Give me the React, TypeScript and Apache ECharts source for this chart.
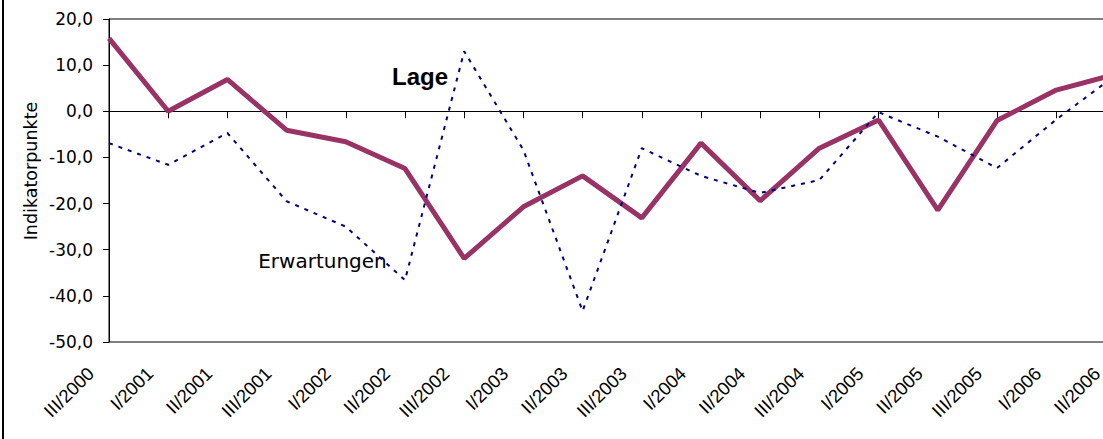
import React, { useEffect, useRef } from "react";
import * as echarts from "echarts";

const categories = [
  "III/2000", "I/2001", "II/2001", "III/2001", "I/2002", "II/2002", "III/2002",
  "I/2003", "II/2003", "III/2003", "I/2004", "II/2004", "III/2004",
  "I/2005", "II/2005", "III/2005", "I/2006", "II/2006",
];

const lage = [15.8, 0.0, 6.9, -4.1, -6.6, -12.4, -31.9, -20.7, -14.0, -23.1, -6.9, -19.4, -8.0, -1.9, -21.4, -2.0, 4.6, 8.0];

const erwartungen = [-6.9, -11.6, -4.7, -19.5, -25.0, -36.6, 13.0, -8.4, -43.3, -8.0, -14.0, -17.7, -14.9, -0.2, -5.5, -12.3, -1.8, 7.8];

const yTicks = { min: -50, max: 20, interval: 10 };

const FONT = "DejaVu Sans";

export default function App() {
  const ref = useRef<HTMLDivElement>(null);
  useEffect(() => {
    if (!ref.current) return;
    const chart = echarts.init(ref.current, undefined, { renderer: "svg" });
    chart.setOption({
      animation: false,
      backgroundColor: "#fff",
      grid: { left: 109, top: 19, width: 1006.4, height: 323, show: true, borderColor: "#000", borderWidth: 1 },
      xAxis: [
        {
          type: "category",
          data: categories,
          boundaryGap: false,
          position: "bottom",
          axisLine: { show: false, onZero: false },
          axisTick: { show: false },
          splitLine: { show: false },
          axisLabel: {
            interval: 0,
            rotate: 45,
            margin: 10,
            padding: [0, 26, 0, 0],
            fontSize: 18.5,
            fontFamily: "Liberation Sans",
            color: "#000",
          },
        },
        {
          type: "category",
          data: categories,
          boundaryGap: false,
          position: "bottom",
          axisLine: { show: true, onZero: true, lineStyle: { color: "#000", width: 1 } },
          axisTick: { show: true, inside: false, length: 7, lineStyle: { color: "#000" } },
          axisLabel: { show: false },
          splitLine: { show: false },
        },
      ],
      yAxis: {
        type: "value",
        min: yTicks.min,
        max: yTicks.max,
        interval: yTicks.interval,
        axisLine: { show: true, onZero: false, lineStyle: { color: "#000", width: 1 } },
        axisTick: { show: true, length: 6, lineStyle: { color: "#000" } },
        splitLine: { show: false },
        axisLabel: {
          margin: 16,
          fontSize: 17,
          fontFamily: FONT,
          color: "#000",
          formatter: (v: number) => v.toFixed(1).replace(".", ","),
        },
      },
      series: [
        {
          name: "Lage",
          type: "line",
          data: lage,
          symbol: "none",
          xAxisIndex: 0,
          lineStyle: { color: "#993366", width: 5 },
        },
        {
          name: "Erwartungen",
          type: "line",
          data: erwartungen,
          symbol: "none",
          xAxisIndex: 0,
          lineStyle: { color: "#000080", width: 2, type: [4, 6] },
        },
      ],
      graphic: [
        {
          type: "line",
          shape: { x1: 3, y1: 0, x2: 3, y2: 439 },
          style: { stroke: "#000", lineWidth: 2 },
        },
        {
          type: "text",
          x: 30.5,
          y: 171,
          rotation: Math.PI / 2,
          style: {
            text: "Indikatorpunkte",
            fontSize: 17.5,
            fontFamily: FONT,
            fill: "#000",
            textAlign: "center",
            textVerticalAlign: "middle",
          },
        },
        {
          type: "text",
          x: 420,
          y: 76,
          style: {
            text: "Lage",
            fontSize: 24,
            fontWeight: "bold",
            fontFamily: "Liberation Sans",
            fill: "#000",
            textAlign: "center",
            textVerticalAlign: "middle",
          },
        },
        {
          type: "text",
          x: 322.5,
          y: 261,
          style: {
            text: "Erwartungen",
            fontSize: 20,
            fontFamily: FONT,
            fill: "#000",
            textAlign: "center",
            textVerticalAlign: "middle",
          },
        },
      ],
    });
    return () => chart.dispose();
  }, []);
  return (
    <div style={{ position: "absolute", left: 0, top: 0, width: 1103, height: 439, overflow: "hidden", background: "#fff" }}>
      <div ref={ref} style={{ width: 1140, height: 439 }} />
    </div>
  );
}
